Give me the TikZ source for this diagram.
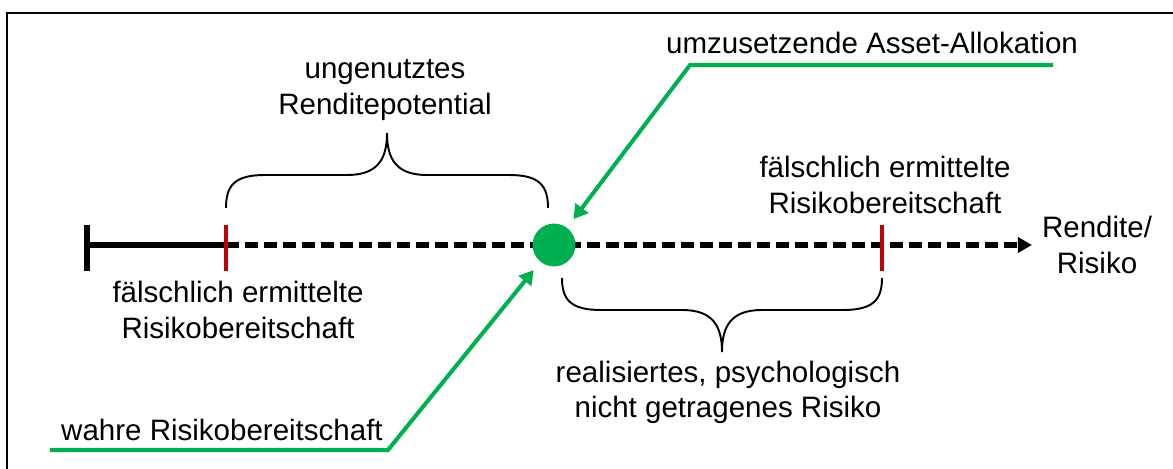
\documentclass[tikz,border=0pt]{standalone}
\usepackage{fontspec}
\setmainfont{Liberation Sans}
\usetikzlibrary{arrows.meta}
\definecolor{ampelgruen}{HTML}{00B050}
\definecolor{dunkelrot}{HTML}{C00000}
\tikzset{
    achse/.style={line width=2.9pt},
    gestrichelt/.style={achse, dash pattern=on 7.4pt off 3.4pt},
    marke/.style={line width=2.3pt, dunkelrot},
    klammer/.style={line width=1.1pt},
    zeiger/.style={line width=2.3pt, ampelgruen, -{Triangle[length=8pt,width=9pt]}, shorten >=6pt},
    beschriftung/.style={align=center, inner sep=0pt, font=\fontsize{16.8}{20}\selectfont},
    punkt/.style={circle, fill=ampelgruen, minimum size=24.4pt, inner sep=0pt}
}
\begin{document}
\begin{tikzpicture}[x=0.02cm, y=-0.02cm]
            \useasboundingbox (0,0) rectangle (1173,469);
            % Rahmen
            \draw[line width=1.2pt] (7,469) -- (7,13) -- (1173,13);
            % Achse
            \coordinate (null) at (87,245);
            \coordinate (falschlinks) at (226,245);
            \coordinate (falschrechts) at (882,245);
            \coordinate (ende) at (1032,245);
            \draw[achse] (null) -- (falschlinks);
            \draw[gestrichelt, -{Triangle[length=8pt,width=8.5pt]}] (falschlinks) -- (ende);
            \draw[achse] ([yshift=11.3pt]null) -- ([yshift=-14.7pt]null);
            \draw[marke] ([yshift=11.3pt]falschlinks) -- ([yshift=-14.7pt]falschlinks);
            \draw[marke] ([yshift=11.3pt]falschrechts) -- ([yshift=-14.7pt]falschrechts);
            \node[punkt] (allokation) at (554,245) {};
            % Klammern
            \draw[klammer] (226,208) .. controls (226,185) and (235,175) .. (265,175) -- (347,175)
                .. controls (377,175) and (387,160) .. (387,133)
                .. controls (387,160) and (397,175) .. (427,175) -- (509,175)
                .. controls (539,175) and (548,185) .. (548,208);
            \draw[klammer] (562,278) .. controls (562,300) and (571,310) .. (601,310) -- (682,310)
                .. controls (712,310) and (722,325) .. (722,352)
                .. controls (722,325) and (732,310) .. (762,310) -- (843,310)
                .. controls (873,310) and (882,300) .. (882,278);
            % Texte
            \node[beschriftung] (ungenutzt) at (385,90) {ungenutztes\\Renditepotential};
            \node[beschriftung] (falschtextl) at (238,310) {fälschlich ermittelte\\Risikobereitschaft};
            \node[beschriftung] (falschtextr) at (885,185) {fälschlich ermittelte\\Risikobereitschaft};
            \node[beschriftung] (rendite) at (1097,245) {Rendite/\\Risiko};
            \node[beschriftung] (realisiert) at (728,392) {realisiertes, psychologisch\\nicht getragenes Risiko};
            \node[beschriftung] (umzusetzen) at (872,43) {umzusetzende Asset-Allokation};
            \node[beschriftung] (wahr) at (222,430) {wahre Risikobereitschaft};
            % Zeiger
            \coordinate (obenende) at (1053,65);
            \coordinate (obenknick) at (690,65);
            \coordinate (untenanfang) at (50,450);
            \coordinate (untenknick) at (388,450);
            \draw[zeiger] (obenende) -- (obenknick) -- (allokation);
            \draw[zeiger] (untenanfang) -- (untenknick) -- (allokation);
        \end{tikzpicture}
\end{document}
